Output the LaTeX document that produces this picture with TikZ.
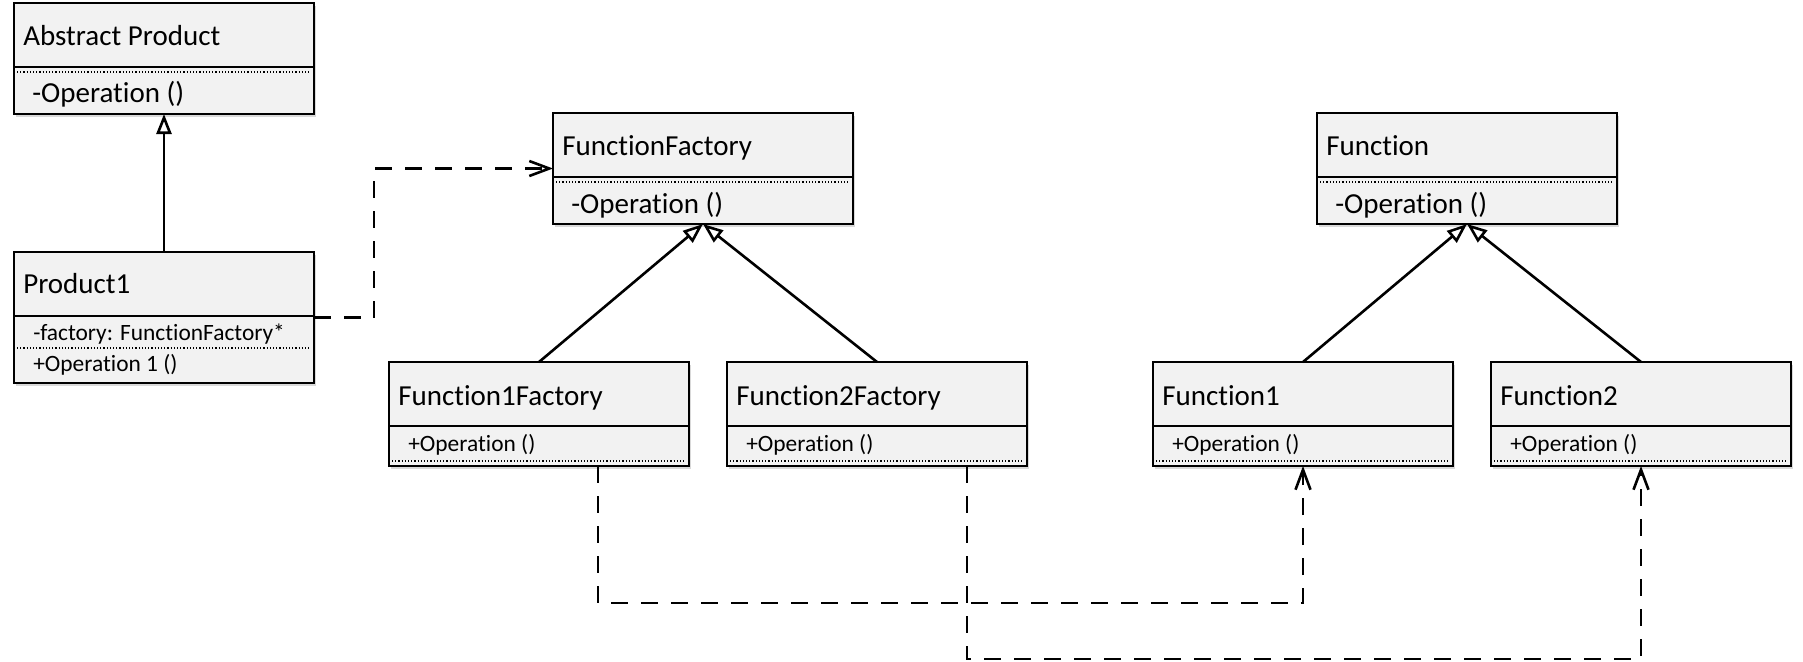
\documentclass[tikz,border=0pt]{standalone}
\usepackage{fontspec}
\setmainfont{Carlito}[Ligatures={NoCommon,NoContextual,NoRare}]
\usetikzlibrary{arrows.meta,positioning,shadows,calc}
\definecolor{boxfill}{RGB}{242,242,242}

\begin{document}
\begin{tikzpicture}[line width=1.3pt,
    class/.style={draw,fill=boxfill,minimum width=150pt,outer sep=0pt,inner sep=0pt,
      drop shadow={opacity=0.3,shadow xshift=0.8pt,shadow yshift=-1.5pt}},
    title/.style={anchor=base west,inner sep=0pt,font=\fontsize{14.5}{17}\selectfont},
    member/.style={anchor=base west,inner sep=0pt,font=\fontsize{11.7}{14}\selectfont},
    dots/.style={line width=0.6pt,densely dotted},
    inherit/.style={-{Triangle[open,length=10pt,width=7.5pt]}},
    depend/.style={dash pattern=on 8.5pt off 6.5pt,-{Straight Barb[length=10pt,width=7.5pt]}}]

\useasboundingbox (0,0) rectangle (901.5pt,-330.5pt);

% class boxes
\node[class,minimum height=55.5pt] (abs) at (82pt,-29.25pt) {};
\node[class,minimum height=65.5pt] (prod) [below=69pt of abs] {};
\node[class,minimum height=55.5pt] (ff) [right=119.5pt of abs,yshift=-55pt] {};
\node[class,minimum height=55.5pt] (fn) [right=232pt of ff] {};
\node[class,minimum height=52pt] (f1f) [below=69pt of ff,xshift=-82pt] {};
\node[class,minimum height=52pt] (f2f) [right=19pt of f1f] {};
\node[class,minimum height=52pt] (f1) [below=69pt of fn,xshift=-82pt] {};
\node[class,minimum height=52pt] (f2) [right=19pt of f1] {};

% Abstract Product
\node[title] (abs-t) at ([xshift=4pt,yshift=-21pt]abs.north west) {Abstract Product};
\draw ([yshift=-32pt]abs.north west) -- ([yshift=-32pt]abs.north east);
\draw[dots] ([xshift=1.5pt,yshift=-34.5pt]abs.north west) -- ([xshift=-1.5pt,yshift=-34.5pt]abs.north east);
\node[title] (abs-m) at ([xshift=8.5pt,yshift=-49.5pt]abs.north west) {-Operation ()};

% Product1
\node[title] (prod-t) at ([xshift=4pt,yshift=-20.5pt]prod.north west) {Product1};
\draw ([yshift=-32pt]prod.north west) -- ([yshift=-32pt]prod.north east);
\node[member] (prod-a) at ([xshift=9pt,yshift=-44pt]prod.north west) {-factory: FunctionFactory*};
\draw[dots] ([xshift=1.5pt,yshift=-48pt]prod.north west) -- ([xshift=-1.5pt,yshift=-48pt]prod.north east);
\node[member] (prod-m) at ([xshift=9pt,yshift=-59.5pt]prod.north west) {+Operation 1 ()};

% FunctionFactory
\node[title] (ff-t) at ([xshift=4pt,yshift=-21pt]ff.north west) {FunctionFactory};
\draw ([yshift=-32pt]ff.north west) -- ([yshift=-32pt]ff.north east);
\draw[dots] ([xshift=1.5pt,yshift=-34.5pt]ff.north west) -- ([xshift=-1.5pt,yshift=-34.5pt]ff.north east);
\node[title] (ff-m) at ([xshift=8.5pt,yshift=-50pt]ff.north west) {-Operation ()};

% Function
\node[title] (fn-t) at ([xshift=4pt,yshift=-21pt]fn.north west) {Function};
\draw ([yshift=-32pt]fn.north west) -- ([yshift=-32pt]fn.north east);
\draw[dots] ([xshift=1.5pt,yshift=-34.5pt]fn.north west) -- ([xshift=-1.5pt,yshift=-34.5pt]fn.north east);
\node[title] (fn-m) at ([xshift=8.5pt,yshift=-50pt]fn.north west) {-Operation ()};

% concrete classes
\foreach \n/\t in {f1f/Function1Factory,f2f/Function2Factory,f1/Function1,f2/Function2}{
  \node[title] (\n-t) at ([xshift=4pt,yshift=-21.5pt]\n.north west) {\t};
  \draw ([yshift=-32pt]\n.north west) -- ([yshift=-32pt]\n.north east);
  \node[member] (\n-m) at ([xshift=9pt,yshift=-44.5pt]\n.north west) {+Operation ()};
  \draw[dots] ([xshift=1.5pt,yshift=2.5pt]\n.south west) -- ([xshift=-1.5pt,yshift=2.5pt]\n.south east);
}

% inheritance
\draw[inherit] (prod) -- (abs);
\draw[inherit] (f1f.north) -- (ff.south);
\draw[inherit] (f2f.north) -- (ff.south);
\draw[inherit] (f1.north) -- (fn.south);
\draw[inherit] (f2.north) -- (fn.south);

% dependencies
\draw[depend] (prod.east) -- ++(30pt,0) |- (ff.west);
\draw[depend] ([xshift=29.5pt]f1f.south) -- ++(0,-68.5pt) -| (f1.south);
\draw[depend] ([xshift=45pt]f2f.south) -- ++(0,-96.5pt) -| (f2.south);

\end{tikzpicture}
\end{document}
